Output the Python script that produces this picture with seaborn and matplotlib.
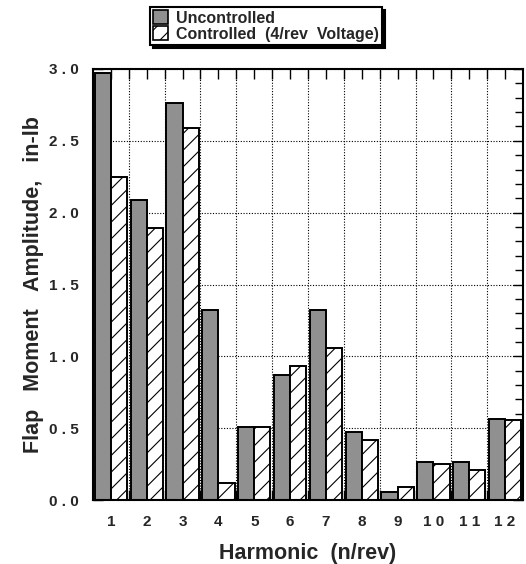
import matplotlib
matplotlib.use("Agg")
import matplotlib.pyplot as plt
import seaborn as sns
import pandas as pd
import numpy as np
from matplotlib.patches import Patch
from matplotlib.ticker import MultipleLocator, FixedLocator, FuncFormatter

harmonics = ["1", "2", "3", "4", "5", "6", "7", "8", "9", "1 0", "1 1", "1 2"]
uncontrolled = [2.97, 2.09, 2.76, 1.32, 0.51, 0.87, 1.32, 0.475, 0.055, 0.265, 0.265, 0.567]
controlled = [2.25, 1.89, 2.59, 0.12, 0.51, 0.93, 1.06, 0.42, 0.09, 0.25, 0.21, 0.556]
series_names = ["Uncontrolled", "Controlled  (4/rev  Voltage)"]

df = pd.DataFrame({
    "Harmonic": harmonics * 2,
    "Amplitude": uncontrolled + controlled,
    "Series": [series_names[0]] * len(harmonics) + [series_names[1]] * len(harmonics),
})

sns.set_style("white")
plt.rcParams["font.family"] = ["Liberation Sans", "DejaVu Sans"]
plt.rcParams["font.weight"] = "bold"
plt.rcParams["hatch.linewidth"] = 0.8

gray = "#909090"
fig = plt.figure(figsize=(5.26, 5.64), dpi=100)
ax = fig.add_axes([93 / 526, 1 - 500 / 564, 430 / 526, 431 / 564])

sns.barplot(data=df, x="Harmonic", y="Amplitude", hue="Series", order=harmonics,
            hue_order=series_names, palette=[gray, "white"], width=0.9,
            edgecolor="black", linewidth=1.4, legend=False, ax=ax, saturation=1)

for bar in ax.containers[1]:
    bar.set_hatch("//")

ax.set_xlim(-0.5, 11.5)
ax.set_ylim(0, 3.0)

ax.xaxis.set_major_locator(FixedLocator(np.arange(len(harmonics))))
ax.xaxis.set_minor_locator(FixedLocator(np.arange(len(harmonics) - 1) + 0.5))
ax.set_xticklabels(harmonics)
ax.yaxis.set_major_locator(MultipleLocator(0.5))
ax.yaxis.set_minor_locator(MultipleLocator(0.1))
ax.yaxis.set_major_formatter(FuncFormatter(lambda v, p: " ".join(f"{v:.1f}")))

ax.grid(False)
ax.xaxis.grid(True, which="minor", linestyle=(0, (1, 1.5)), color="black", linewidth=0.8)
ax.yaxis.grid(True, which="major", linestyle=(0, (1, 1.5)), color="black", linewidth=0.8)
ax.set_axisbelow(True)

ax.tick_params(axis="both", which="both", direction="in", top=True, right=True,
               bottom=True, left=True, color="black")
ax.tick_params(axis="both", which="major", length=7, width=1.0, labelsize=11, pad=10)
ax.tick_params(axis="both", which="minor", length=7, width=1.0)
ax.tick_params(axis="x", which="major", pad=11)
ax.tick_params(axis="y", which="minor", length=6)

for s in ax.spines.values():
    s.set_color("black")
    s.set_linewidth(1.5)

ax.set_xlabel("Harmonic  (n/rev)", fontsize=15.5, fontweight="bold", labelpad=10)
ax.set_ylabel("Flap   Moment   Amplitude,   in-lb", fontsize=15.5, fontweight="bold", labelpad=4)

handles = [Patch(facecolor=gray, edgecolor="black", linewidth=1.2),
           Patch(facecolor="white", edgecolor="black", linewidth=1.2, hatch="//")]
leg = fig.legend(handles, series_names, loc="upper left",
                 bbox_to_anchor=(150 / 526, 1 - 7 / 564), frameon=True, fancybox=False,
                 shadow={"color": "black", "alpha": 1}, fontsize=11.5,
                 handlelength=0.9, handleheight=0.95, handletextpad=0.55,
                 labelspacing=0.05, borderpad=0.2, borderaxespad=0)
leg.get_frame().set_edgecolor("black")
leg.get_frame().set_linewidth(1.5)
for t in leg.get_texts():
    t.set_fontweight("bold")

fig.savefig("out.png", dpi=100)
